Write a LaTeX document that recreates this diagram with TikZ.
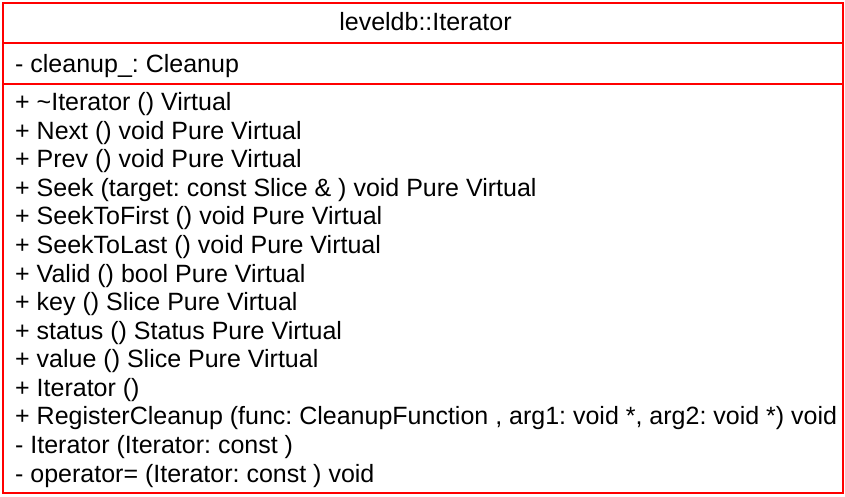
\documentclass[tikz,border=0pt]{standalone}
\usepackage{fontspec}
\setmainfont{Liberation Sans}
\frenchspacing
\definecolor{umlred}{RGB}{255,0,0}
\definecolor{textdark}{RGB}{0,0,0}

\begin{document}
\begin{tikzpicture}[x=1pt,y=-1pt,
        part/.style={draw=umlred,line width=2.8pt,minimum width=840pt,
                     anchor=north west,inner sep=0pt,outer sep=0pt},
        member/.style={anchor=base west,inner sep=0pt,text=textdark,
                       font=\fontsize{25}{29}\selectfont}]
      \useasboundingbox (0,0) rectangle (845,497);
      % compartments
      \node[part,minimum height=40pt] (head) at (3,3) {};
      \node[part,minimum height=41pt] (attrs) at (3,43) {};
      \node[part,minimum height=409pt] (ops) at (3,84) {};
      \node[member,anchor=base] (title) at (425.5,30.7) {leveldb::Iterator};
      % attributes
      \node[member] (cleanup) at (15,72.3) {- cleanup\_: Cleanup};
      % operations
      \node[member] (dtor) at (15,110.7) {+ \textasciitilde Iterator () Virtual};
      \node[member] (next) at (15,139.3) {+ Next () void Pure Virtual};
      \node[member] (prev) at (15,167.8) {+ Prev () void Pure Virtual};
      \node[member] (seek) at (15,196.4) {+ Seek (target: const Slice \& ) void Pure Virtual};
      \node[member] (first) at (15,224.9) {+ SeekToFirst () void Pure Virtual};
      \node[member] (last) at (15,253.5) {+ SeekToLast () void Pure Virtual};
      \node[member] (valid) at (15,282.1) {+ Valid () bool Pure Virtual};
      \node[member] (key) at (15,310.6) {+ key () Slice Pure Virtual};
      \node[member] (status) at (15,339.2) {+ status () Status Pure Virtual};
      \node[member] (value) at (15,367.7) {+ value () Slice Pure Virtual};
      \node[member] (ctor) at (15,396.3) {+ Iterator ()};
      \node[member] (register) at (15,424.9) {+ RegisterCleanup (func: CleanupFunction , arg1: void *, arg2: void *) void};
      \node[member] (copy) at (15,453.4) {- Iterator (Iterator: const )};
      \node[member] (assign) at (15,482) {- operator= (Iterator: const ) void};
    \end{tikzpicture}
\end{document}
